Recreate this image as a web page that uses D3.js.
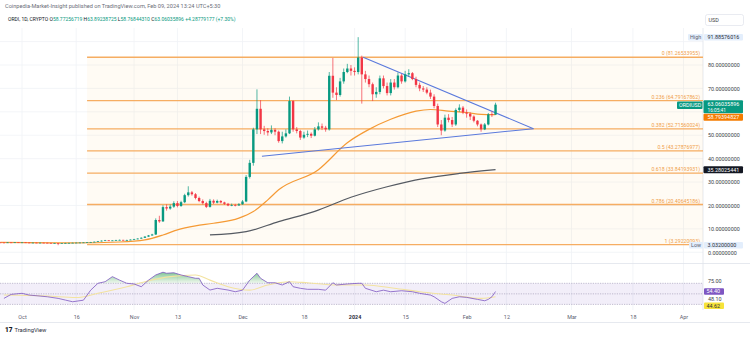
<!DOCTYPE html>
<html><head><meta charset="utf-8">
<script src="https://cdn.jsdelivr.net/npm/d3@7/dist/d3.min.js"></script>
<style>
html,body{margin:0;padding:0;background:#fff;}
svg{display:block;font-family:Roboto,"Liberation Sans",Arial,sans-serif;}
</style></head><body>
<svg id="chart" width="750" height="339"></svg>
<script>
// ---------------- DATA ----------------
const startDate = "2023-09-25"; // first daily candle
const opens = [4.18,4.15,4.10,4.20,4.18,4.25,
4.20,4.22,4.15,4.05,4.10,4.02,4.08,4.05,4.00,3.92,3.95,3.88,3.90,3.98,4.00,4.05,4.10,4.15,4.20,4.30,4.35,4.50,4.70,4.95,5.10,4.95,5.05,5.20,5.30,5.15,5.25,
5.40,5.60,5.85,6.20,6.70,7.20,7.60,13.80,13.20,19.30,18.70,19.50,21.00,19.80,21.40,24.40,25.60,24.80,23.20,21.90,21.00,19.40,22.00,21.20,21.90,21.30,20.70,20.00,20.20,20.00,
20.50,21.70,32.20,38.20,52.50,61.30,52.50,51.80,51.20,52.30,51.50,47.50,49.50,50.80,64.60,52.50,51.80,49.00,50.20,50.60,49.80,52.50,53.80,53.20,52.50,75.40,68.20,67.20,73.00,77.00,78.50,
77.50,77.00,83.20,76.00,74.00,71.80,67.50,68.50,74.30,71.00,68.00,72.50,70.50,75.50,73.00,76.00,76.50,74.00,71.50,70.00,69.50,68.20,66.50,62.50,54.60,52.00,57.50,56.50,54.60,60.80,61.80,
59.70,59.20,58.00,56.20,54.60,52.50,54.60,58.90,58.77];
const highs = [4.30,4.25,4.32,4.30,4.35,4.32,
4.35,4.28,4.20,4.18,4.15,4.15,4.12,4.10,4.02,4.02,3.98,3.98,4.05,4.08,4.12,4.18,4.25,4.30,4.40,4.45,4.60,4.85,5.10,5.30,5.15,5.20,5.35,5.45,5.35,5.40,5.55,
5.75,6.00,6.40,6.90,7.40,7.90,14.50,15.60,20.10,20.50,20.40,21.80,21.90,22.00,25.00,28.20,26.20,25.30,23.80,22.60,21.60,22.80,22.60,22.50,22.30,21.60,21.10,20.80,20.70,21.00,
22.30,33.00,39.50,53.20,69.60,65.00,54.00,53.00,54.20,53.00,52.00,51.50,52.50,66.50,65.00,53.50,52.30,51.50,52.00,51.20,53.50,55.50,55.00,54.00,77.00,83.00,70.50,74.50,78.50,80.50,80.00,
79.00,91.89,84.00,77.50,75.50,72.50,70.50,75.50,75.50,72.50,74.00,74.00,76.80,76.20,77.50,78.20,77.00,75.00,72.50,71.00,70.50,69.50,67.50,63.50,56.50,58.80,59.00,57.80,61.50,63.20,62.50,
61.00,59.80,58.50,56.50,55.00,55.20,59.50,60.20,63.89];
const lows = [4.05,4.00,4.05,4.08,4.12,4.10,
4.12,4.05,3.95,3.98,3.92,3.95,3.95,3.90,3.80,3.85,3.03,3.78,3.85,3.92,3.95,4.00,4.05,4.10,4.15,4.25,4.30,4.45,4.65,4.85,4.80,4.90,5.00,5.10,5.05,5.08,5.20,
5.35,5.55,5.80,6.10,6.60,7.10,7.40,12.60,13.00,17.80,18.20,19.00,19.20,19.40,21.00,23.80,24.20,22.60,21.40,20.40,18.90,19.10,20.60,20.90,20.90,20.20,19.70,19.70,19.60,19.90,
20.30,21.40,31.50,37.00,50.50,50.50,50.20,49.80,50.50,50.00,46.80,46.50,49.00,50.50,51.50,50.80,48.00,48.50,49.20,48.80,49.50,52.00,52.20,51.50,52.00,66.00,65.00,66.50,72.00,76.50,75.50,
75.50,76.00,63.50,72.50,70.50,64.60,66.00,67.50,70.00,67.00,67.00,69.50,70.00,72.00,72.50,75.00,73.50,70.50,68.80,68.50,67.50,65.50,61.50,53.50,50.00,51.50,55.50,53.50,54.00,60.00,59.00,
57.50,56.50,55.50,53.80,51.50,52.20,54.20,57.80,58.77];
const closes = [4.15,4.10,4.20,4.18,4.25,4.20,
4.22,4.15,4.05,4.10,4.02,4.08,4.05,4.00,3.92,3.95,3.88,3.90,3.98,4.00,4.05,4.10,4.15,4.20,4.30,4.35,4.50,4.70,4.95,5.10,4.95,5.05,5.20,5.30,5.15,5.25,5.40,
5.60,5.85,6.20,6.70,7.20,7.60,13.80,13.20,19.30,18.70,19.50,21.00,19.80,21.40,24.40,25.60,24.80,23.20,21.90,21.00,19.40,22.00,21.20,21.90,21.30,20.70,20.00,20.20,20.00,20.50,
21.70,32.20,38.20,52.50,61.30,52.50,51.80,51.20,52.30,51.50,47.50,49.50,50.80,64.60,52.50,51.80,49.00,50.20,50.60,49.80,52.50,53.80,53.20,52.50,75.40,68.20,67.20,73.00,77.00,78.50,77.50,
77.00,83.20,76.00,74.00,71.80,67.50,68.50,74.30,71.00,68.00,72.50,70.50,75.50,73.00,76.00,76.50,74.00,71.50,70.00,69.50,68.20,66.50,62.50,54.60,52.00,57.50,56.50,54.60,60.80,61.80,59.70,
59.20,58.00,56.20,54.60,52.50,54.60,58.90,58.77,63.06];

// orange moving average
const maFastDates = ["2023-09-25","2023-10-15","2023-10-28","2023-11-04","2023-11-09","2023-11-13","2023-11-18","2023-11-23","2023-11-30","2023-12-04","2023-12-08","2023-12-11","2023-12-22","2023-12-30","2024-01-05","2024-01-11","2024-01-18","2024-01-22","2024-01-27","2024-02-01","2024-02-05","2024-02-09"];
const maFastValues = [4.2,4.0,4.4,5.3,7.4,9.6,11.3,12.4,14.6,17.4,22.4,26.7,35.3,46.8,52.5,56.8,60.3,61.0,60.3,59.7,58.9,58.79];
// dark moving average
const maSlowDates = ["2023-11-22","2023-12-02","2023-12-11","2023-12-21","2023-12-31","2024-01-10","2024-01-20","2024-01-30","2024-02-09"];
const maSlowValues = [7.4,8.8,13.1,17.5,23.5,28.0,31.5,33.7,35.28];

// Fibonacci retracement
const fibLabels = ["0 (81.26533955)","0.236 (64.79167862)","0.382 (52.71560024)","0.5 (43.27876977)","0.618 (33.84193931)","0.786 (20.40645186)","1 (3.29220093)"];
const fibPrices = [83.3,64.79,52.72,43.28,33.84,20.41,3.29];
const fibStart = "2023-10-19";

// triangle trend lines
const upperLineDates = ["2024-01-03T09:00Z","2024-02-19T12:00Z"];
const upperLineValues = [83.3,52.8];
const lowerLineDates = ["2023-12-06T09:00Z","2024-02-19T12:00Z"];
const lowerLineValues = [41.0,52.8];

// RSI
const rsiDates = ["2023-09-26","2023-09-28","2023-10-01","2023-10-03","2023-10-06","2023-10-08","2023-10-11","2023-10-13","2023-10-15","2023-10-18","2023-10-20","2023-10-22","2023-10-24","2023-10-26","2023-10-28","2023-10-30","2023-11-01","2023-11-03","2023-11-05","2023-11-07","2023-11-09","2023-11-10","2023-11-12","2023-11-14","2023-11-16","2023-11-18","2023-11-19","2023-11-20","2023-11-22","2023-11-24","2023-11-27","2023-11-29","2023-12-01","2023-12-03","2023-12-05","2023-12-06","2023-12-08","2023-12-10","2023-12-12","2023-12-14","2023-12-15","2023-12-17","2023-12-19","2023-12-22","2023-12-24","2023-12-26","2023-12-27","2023-12-30","2024-01-02","2024-01-03","2024-01-04","2024-01-07","2024-01-09","2024-01-11","2024-01-14","2024-01-17","2024-01-19","2024-01-22","2024-01-23","2024-01-25","2024-01-26","2024-01-28","2024-01-30","2024-02-01","2024-02-04","2024-02-06","2024-02-07","2024-02-08","2024-02-09"];
const rsiValues = [41.4,49,51,47.7,45.8,44.5,41.4,38.2,35,38,57,70,73,82.6,76,70,68.7,63.5,76,85.8,91,89,90,85.8,82.6,79.5,79.5,66.8,57.2,60.5,57.2,54,57,76,89,79.5,71,71,66.8,73,63.5,60.5,58.6,58.6,57,71,66.8,68.7,70,70,60.5,54,57,54,55.9,54,51,47.7,44.5,35,31.9,41.4,44.5,43.3,39.5,36.9,39.5,44.5,54.4];
const rsiMaDates = ["2023-09-26","2023-10-08","2023-10-16","2023-10-22","2023-10-30","2023-11-04","2023-11-11","2023-11-18","2023-11-22","2023-11-27","2023-12-03","2023-12-08","2023-12-14","2023-12-19","2023-12-27","2024-01-04","2024-01-12","2024-01-19","2024-01-28","2024-02-05","2024-02-09"];
const rsiMaValues = [47.7,45.8,43,51,63.5,73,82.6,85.8,76,63.5,57,66.8,73,71,66.8,66.8,60.5,54,47.7,41.4,44.62];

// axis ticks
const timeTickDates = ["2023-10-01","2023-10-16","2023-11-01","2023-11-13","2023-12-01","2023-12-18","2024-01-01","2024-01-15","2024-02-01","2024-02-12","2024-03-01","2024-03-18","2024-04-01"];
const timeTickLabels = ["Oct","16","Nov","13","Dec","18","2024","15","Feb","12","Mar","18","Apr"];
const priceTicks = [0,10,20,30,40,50,70,80];
const priceGrid = [0,10,20,30,40,50,60,70,80,90];

// ---------------- LAYOUT ----------------
const svg = d3.select("#chart");
const plotRight = 703, paneTop = 28, paneBottom = 263, rsiTop = 264, rsiBottom = 310;
const P = s => new Date(s.length === 10 ? s + "T00:00:00Z" : s);

const x = d3.scaleUtc().domain([P("2023-10-01"), P("2024-04-01")]).range([22, 683.5]);
const y = d3.scaleLinear().domain([0, 80]).range([252.3, 65.0]);
const yR = d3.scaleLinear().domain([30, 70]).range([304.4, 283.3]);

const defs = svg.append("defs");
defs.append("clipPath").attr("id","cp").append("rect").attr("x",0).attr("y",paneTop).attr("width",plotRight).attr("height",paneBottom-paneTop);
defs.append("clipPath").attr("id","cr").append("rect").attr("x",0).attr("y",rsiTop).attr("width",plotRight).attr("height",rsiBottom-rsiTop);
const grad = defs.append("linearGradient").attr("id","gg").attr("x1",0).attr("x2",0)
  .attr("gradientUnits","userSpaceOnUse").attr("y1",268).attr("y2",283.3);
grad.append("stop").attr("offset",0).attr("stop-color","#2e9e5e").attr("stop-opacity",0.85);
grad.append("stop").attr("offset",1).attr("stop-color","#4caf50").attr("stop-opacity",0.08);

// header
svg.append("text").attr("x",5).attr("y",8).attr("font-size",5.6).attr("fill","#6a6d78")
  .text("Coinpedia-Market-Insight published on TradingView.com, Feb 09, 2024 13:24 UTC+5:30");
const h2 = svg.append("text").attr("x",8).attr("y",21).attr("font-size",5.0).attr("fill","#131722");
h2.append("tspan").text("ORDI, 1D, CRYPTO ");
[["O","58.77256719"],["H","63.89238725"],["L","58.76844310"],["C","63.06035896"]].forEach(([k,v])=>{
  h2.append("tspan").attr("fill","#131722").text(k);
  h2.append("tspan").attr("fill","#089981").text(v+" ");
});
h2.append("tspan").attr("fill","#089981").text("+4.28779177 (+7.30%)");

// grid
const grid = svg.append("g").attr("stroke","#f0f2f6").attr("stroke-width",0.8);
timeTickDates.forEach(d=>{
  grid.append("line").attr("x1",x(P(d))).attr("x2",x(P(d))).attr("y1",paneTop).attr("y2",rsiBottom);
});
priceGrid.forEach(v=>{
  grid.append("line").attr("x1",0).attr("x2",plotRight).attr("y1",y(v)).attr("y2",y(v));
});

// frame lines
const frame = svg.append("g").attr("stroke","#e0e3eb").attr("stroke-width",0.8);
frame.append("line").attr("x1",0).attr("x2",750).attr("y1",rsiTop-0.5).attr("y2",rsiTop-0.5);
frame.append("line").attr("x1",plotRight).attr("x2",plotRight).attr("y1",paneTop).attr("y2",rsiBottom);
frame.append("line").attr("x1",0).attr("x2",750).attr("y1",322.5).attr("y2",322.5);

// main pane
const main = svg.append("g").attr("clip-path","url(#cp)");

// fib background + lines
const fx0 = x(P(fibStart));
main.append("rect").attr("x",fx0).attr("width",plotRight-fx0)
  .attr("y",y(fibPrices[0])).attr("height",y(fibPrices[6])-y(fibPrices[0]))
  .attr("fill","#ff9800").attr("fill-opacity",0.045);
fibPrices.forEach((p,i)=>{
  main.append("line").attr("x1",fx0).attr("x2",plotRight).attr("y1",y(p)).attr("y2",y(p))
    .attr("stroke","#f6ad62").attr("stroke-width",1.3);
  main.append("text").attr("x",plotRight-3).attr("y",y(p)-2).attr("text-anchor","end")
    .attr("font-size",5.2).attr("fill","#f0a048").text(fibLabels[i]);
});

// moving averages
const lineGen = d3.line().x(d=>x(d[0])).y(d=>y(d[1])).curve(d3.curveMonotoneX);
main.append("path").datum(maSlowDates.map((d,i)=>[P(d),maSlowValues[i]]))
  .attr("d",lineGen).attr("fill","none").attr("stroke","#555a62").attr("stroke-width",1.2);
main.append("path").datum(maFastDates.map((d,i)=>[P(d),maFastValues[i]]))
  .attr("d",lineGen).attr("fill","none").attr("stroke","#f59a35").attr("stroke-width",1.2);

// trend lines
const tl = d3.line().x(d=>x(d[0])).y(d=>y(d[1]));
main.append("path").datum(upperLineDates.map((d,i)=>[P(d),upperLineValues[i]]))
  .attr("d",tl).attr("fill","none").attr("stroke","#5a79dc").attr("stroke-width",1.1);
main.append("path").datum(lowerLineDates.map((d,i)=>[P(d),lowerLineValues[i]]))
  .attr("d",tl).attr("fill","none").attr("stroke","#5a79dc").attr("stroke-width",1.1);

// candles
const UP="#089981", DOWN="#f23645";
const candles = closes.map((c,i)=>({date:d3.utcDay.offset(P(startDate),i),o:opens[i],h:highs[i],l:lows[i],c}));
const cg = main.append("g");
const bw = 2.4;
candles.forEach(k=>{
  const col = k.c >= k.o ? UP : DOWN;
  const cx = x(k.date);
  cg.append("line").attr("x1",cx).attr("x2",cx).attr("y1",y(k.h)).attr("y2",y(k.l))
    .attr("stroke",col).attr("stroke-width",0.7);
  const top = y(Math.max(k.o,k.c)), bot = y(Math.min(k.o,k.c));
  cg.append("rect").attr("x",cx-bw/2).attr("width",bw).attr("y",top).attr("height",Math.max(0.7,bot-top)).attr("fill",col);
});

// price axis
const pa = svg.append("g").attr("transform",`translate(${plotRight},0)`)
  .call(d3.axisRight(y).tickValues(priceTicks).tickFormat(d3.format(".8f")).tickSize(0).tickPadding(5));
pa.select(".domain").remove();
pa.selectAll("text").attr("font-size",5.4).attr("fill","#3c3f48").attr("font-family","Roboto,Arial,sans-serif");

// USD box
svg.append("rect").attr("x",705.5).attr("y",14.5).attr("width",38).attr("height",11).attr("rx",2)
  .attr("fill","#fff").attr("stroke","#e0e3eb").attr("stroke-width",0.7);
svg.append("text").attr("x",708.5).attr("y",21.8).attr("font-size",5.4).attr("fill","#3c3f48").text("USD");

// right axis tags
function tag(xl, yc, w, h, fill, txt, col, anchorX){
  svg.append("rect").attr("x",xl).attr("y",yc-h/2).attr("width",w).attr("height",h).attr("rx",1).attr("fill",fill);
  svg.append("text").attr("x",anchorX).attr("y",yc+1.9).attr("font-size",5.4).attr("fill",col).text(txt);
}
// High / Low
tag(688,y(91.88576016),15,6.5,"#e3eefc","High","#5d6170",690);
tag(704,y(91.88576016),39,6.5,"#e3eefc","91.88576016","#2a2e39",707.5);
tag(689,y(3.032),14,6.5,"#e3eefc","Low","#5d6170",691);
tag(704,y(3.032),39,6.5,"#e3eefc","3.03200000","#2a2e39",707.5);
// last price
const lastY = y(closes[closes.length-1]);
tag(677,lastY+0.5,25.5,7.5,"#089981","ORDIUSD","#fff",679);
svg.append("rect").attr("x",703.5).attr("y",lastY-4.5).attr("width",39.5).attr("height",13).attr("rx",1).attr("fill","#089981");
svg.append("text").attr("x",707.5).attr("y",lastY+1.8).attr("font-size",5.4).attr("fill","#fff").text("63.06035896");
svg.append("text").attr("x",707.5).attr("y",lastY+7).attr("font-size",4.8).attr("fill","#fff").text("16:05:41");
// orange MA value (pushed below the price tag)
const maY = Math.max(y(maFastValues[maFastValues.length-1]), lastY+12.5);
tag(703.5,maY,39.5,7,"#f57c00","58.79394827","#fff",707.5);
// slow MA value
tag(703.5,y(maSlowValues[maSlowValues.length-1]),39.5,7,"#131722","35.28025441","#fff",707.5);

// ---------------- RSI pane ----------------
const rsi = svg.append("g").attr("clip-path","url(#cr)");
rsi.append("rect").attr("x",0).attr("width",plotRight).attr("y",yR(70)).attr("height",yR(30)-yR(70))
  .attr("fill","#7e57c2").attr("fill-opacity",0.1);
[70,50,30].forEach(v=>{
  rsi.append("line").attr("x1",0).attr("x2",plotRight).attr("y1",yR(v)).attr("y2",yR(v))
    .attr("stroke","#9a94b0").attr("stroke-width",0.6).attr("stroke-dasharray","1.2,1.2");
});
const rsiPts = rsiDates.map((d,i)=>[P(d),rsiValues[i]]);
rsi.append("path").datum(rsiPts)
  .attr("d",d3.area().x(d=>x(d[0])).y0(yR(70)).y1(d=>yR(Math.max(70,d[1]))))
  .attr("fill","url(#gg)");
rsi.append("path").datum(rsiMaDates.map((d,i)=>[P(d),rsiMaValues[i]]))
  .attr("d",d3.line().x(d=>x(d[0])).y(d=>yR(d[1])).curve(d3.curveMonotoneX))
  .attr("fill","none").attr("stroke","#f3e3a0").attr("stroke-width",1.1);
rsi.append("path").datum(rsiPts)
  .attr("d",d3.line().x(d=>x(d[0])).y(d=>yR(d[1])))
  .attr("fill","none").attr("stroke","#7e57c2").attr("stroke-width",0.8);

// RSI axis labels
svg.append("text").attr("x",708).attr("y",yR(75)+1.9).attr("font-size",5.4).attr("fill","#3c3f48").text("75.00");
const r1 = yR(54.40);
tag(704,r1,20,6.5,"#7e57c2","54.40","#fff",706.5);
const r2 = Math.max(yR(48.10), r1+7.3);
svg.append("text").attr("x",708).attr("y",r2+1.9).attr("font-size",5.4).attr("fill","#3c3f48").text("48.10");
const r3 = Math.max(yR(44.62), r2+7);
tag(704,r3,20,6.5,"#f7e33a","44.62","#2a2e39",706.5);

// time axis
const ta = svg.append("g").attr("transform",`translate(0,${rsiBottom+1})`)
  .call(d3.axisBottom(x).tickValues(timeTickDates.map(P)).tickFormat((d,i)=>timeTickLabels[i]).tickSize(0).tickPadding(4));
ta.select(".domain").remove();
ta.selectAll("text").attr("font-size",5.4).attr("font-family","Roboto,Arial,sans-serif")
  .attr("font-weight",(d,i)=>timeTickLabels[i]==="2024"?"bold":"normal")
  .attr("fill",(d,i)=>timeTickLabels[i]==="2024"?"#2a2e39":"#5d6170");

// logo
svg.append("text").attr("x",5).attr("y",332).attr("font-size",6.5).attr("font-weight",900).attr("fill","#131722").text("17");
svg.append("text").attr("x",14.5).attr("y",332).attr("font-size",5.8).attr("fill","#2a2e39").text("TradingView");
</script>
</body></html>
